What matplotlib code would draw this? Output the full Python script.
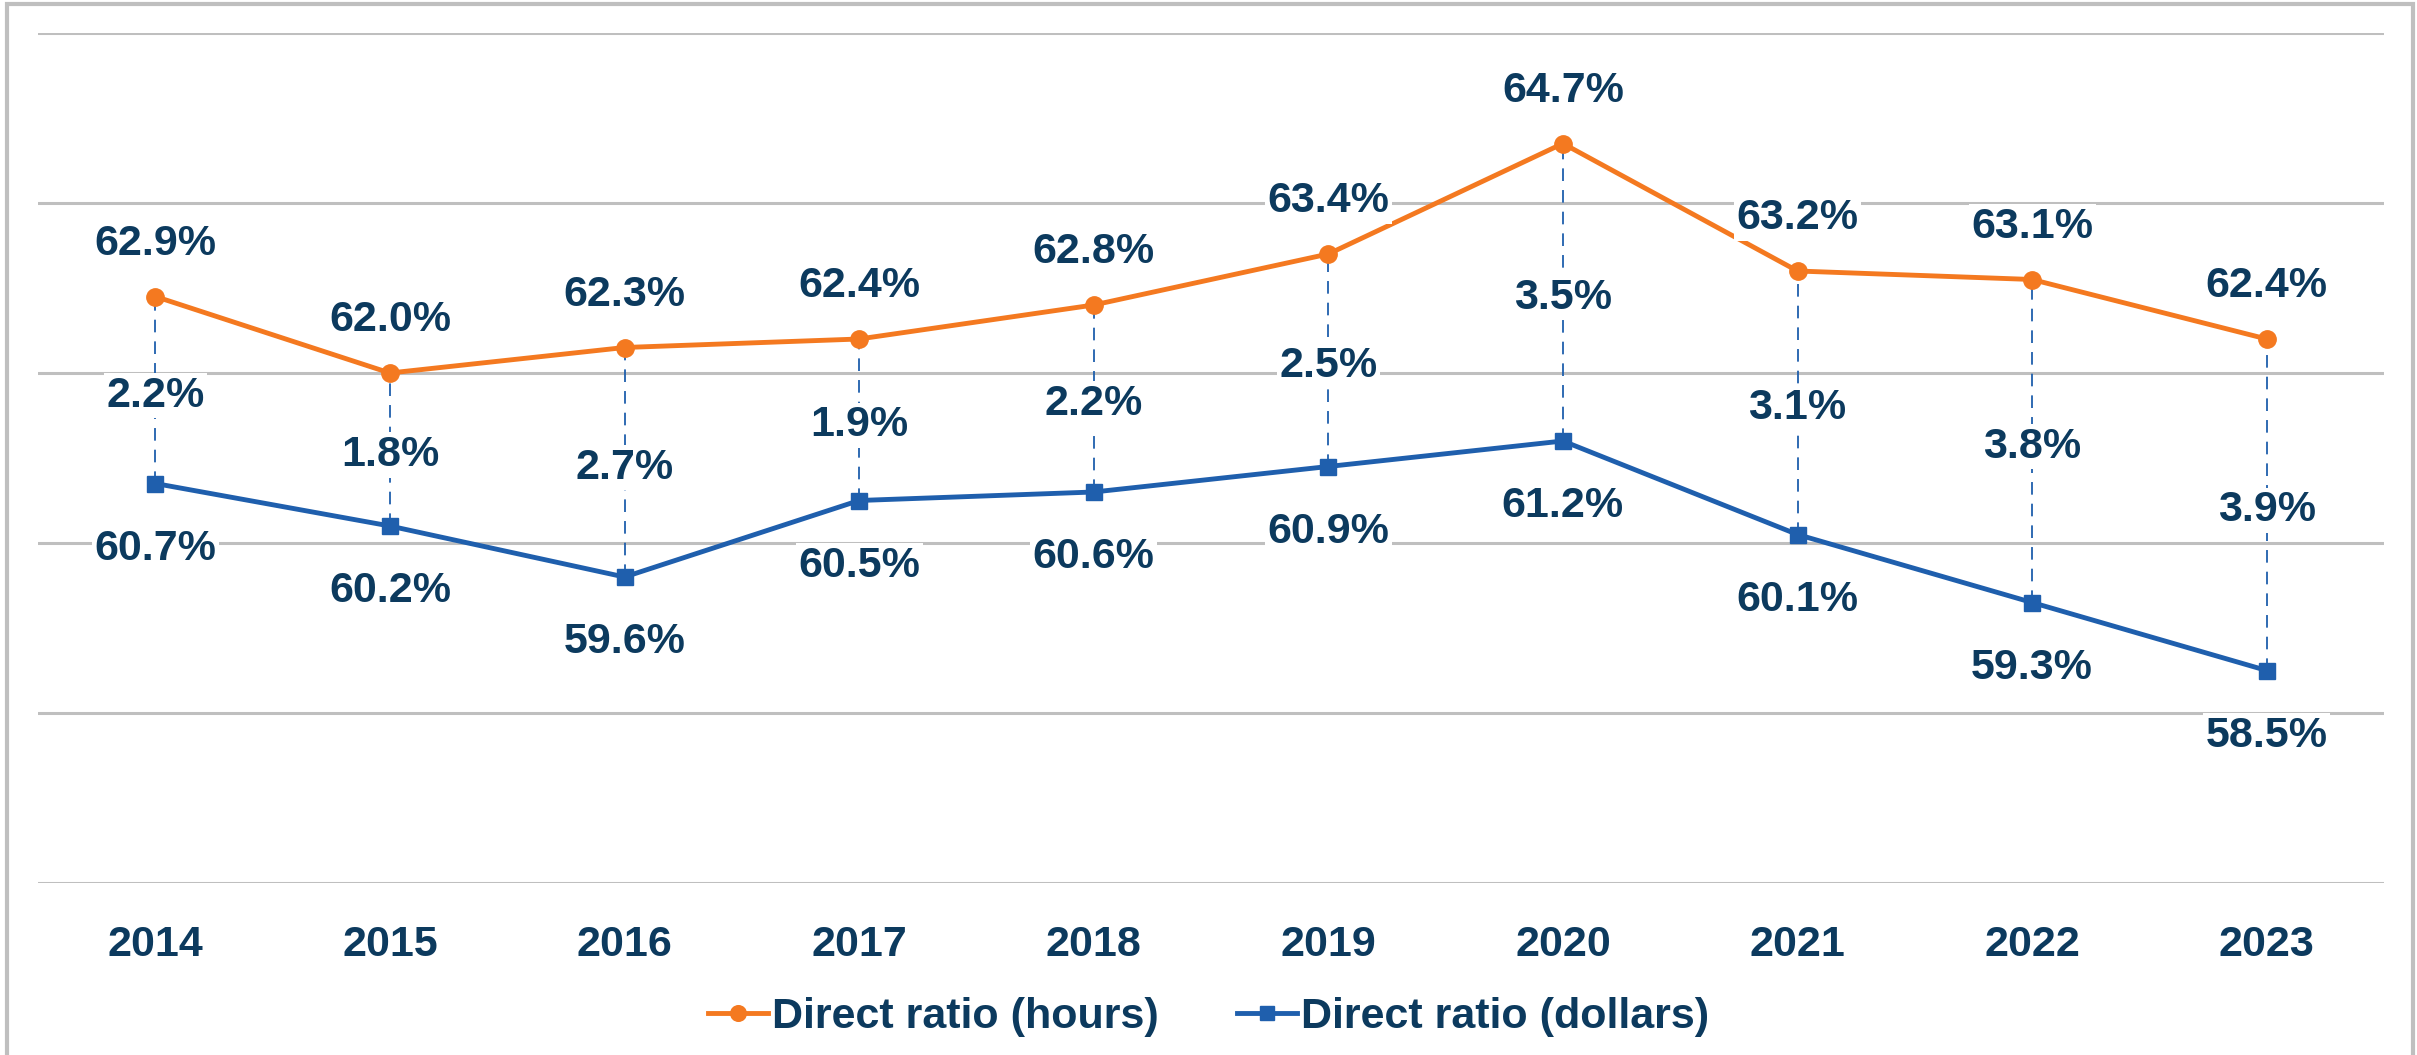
import matplotlib.pyplot as plt
from matplotlib.patches import Rectangle

# -----------------------------------------
# Data
# -----------------------------------------
years = ["2014", "2015", "2016", "2017", "2018", "2019", "2020", "2021", "2022", "2023"]
hours = [62.9, 62.0, 62.3, 62.4, 62.8, 63.4, 64.7, 63.2, 63.1, 62.4]
dollars = [60.7, 60.2, 59.6, 60.5, 60.6, 60.9, 61.2, 60.1, 59.3, 58.5]
gaps = [2.2, 1.8, 2.7, 1.9, 2.2, 2.5, 3.5, 3.1, 3.8, 3.9]

ORANGE = "#F47920"
BLUE = "#1F5FAD"
NAVY = "#0C3A5E"
GRID = "#BFBFBF"

plt.rcParams["font.family"] = ["Liberation Sans", "DejaVu Sans"]
plt.rcParams["font.weight"] = "bold"

W, H = 2417, 1055
fig = plt.figure(figsize=(W / 100, H / 100), dpi=100)
ax = fig.add_axes([38 / W, 1 - 883 / H, (2384 - 38) / W, (883 - 33) / H])

x = list(range(len(years)))

# connectors between the two series
for i in x:
    ax.plot([i, i], [dollars[i], hours[i]], color=BLUE, lw=1.3,
            linestyle=(0, (7, 5)), zorder=2)

ax.plot(x, hours, color=ORANGE, lw=3.5, marker="o", markersize=12.5,
        label="Direct ratio (hours)", zorder=4)
ax.plot(x, dollars, color=BLUE, lw=3.5, marker="s", markersize=11.5,
        label="Direct ratio (dollars)", zorder=4)

FS = 31
box = dict(facecolor="white", edgecolor="none", pad=2)
for i in x:
    ax.annotate(f"{hours[i]:.1f}%", (i, hours[i]), xytext=(0, 38),
                textcoords="offset points", ha="center", va="center",
                fontsize=FS, fontweight="bold", color=NAVY, bbox=box, zorder=5)
    ax.annotate(f"{dollars[i]:.1f}%", (i, dollars[i]), xytext=(0, -47),
                textcoords="offset points", ha="center", va="center",
                fontsize=FS, fontweight="bold", color=NAVY, bbox=box, zorder=5)
    ax.annotate(f"{gaps[i]:.1f}%", (i, (hours[i] + dollars[i]) / 2),
                xytext=(0, -4), textcoords="offset points",
                ha="center", va="center", fontsize=FS, fontweight="bold",
                color=NAVY, bbox=box, zorder=5)

ax.set_xlim(-0.5, len(years) - 0.5)
ax.set_ylim(56, 66)
ax.set_yticks([56, 58, 60, 62, 64, 66])
ax.set_yticklabels([])
ax.tick_params(axis="y", length=0)
ax.set_xticks(x)
ax.set_xticklabels(years, fontsize=FS, fontweight="bold", color=NAVY)
ax.tick_params(axis="x", length=0, pad=30)
ax.grid(axis="y", color=GRID, lw=2.2)
ax.set_axisbelow(True)
for s in ax.spines.values():
    s.set_visible(False)

leg = fig.legend(loc="center", bbox_to_anchor=(0.5, 1 - 1017 / H), ncol=2,
                 frameon=False, fontsize=FS, handlelength=1.4,
                 handletextpad=0.1, columnspacing=1.8, markerscale=0.9)
for t in leg.get_texts():
    t.set_color(NAVY)
    t.set_fontweight("bold")

# outer border
fig.patches.append(Rectangle((7 / W, -0.02), (2413 - 7) / W, 1.02 - 4 / H,
                             transform=fig.transFigure, fill=False,
                             edgecolor=GRID, lw=3))

fig.savefig("out.png", dpi=100)
